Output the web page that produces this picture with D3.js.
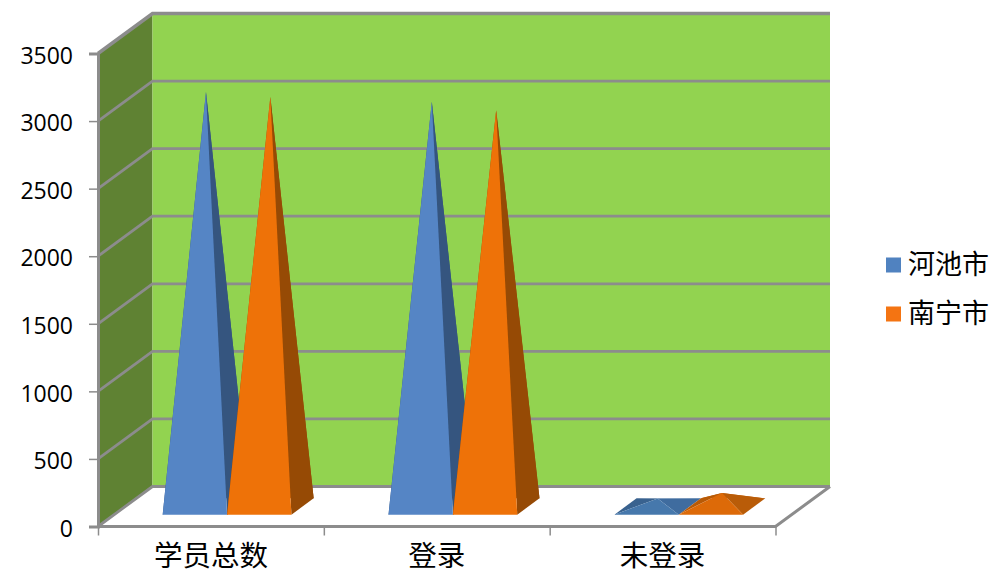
<!DOCTYPE html>
<html>
<head>
<meta charset="utf-8">
<script src="https://cdnjs.cloudflare.com/ajax/libs/d3/7.8.5/d3.min.js"></script>
<style>
html, body { margin: 0; padding: 0; background: #fff; }
svg { display: block; }
</style>
</head>
<body>
<svg id="chart" width="992" height="578"></svg>
<script>
const categories = ["学员总数", "登录", "未登录"];
const seriesNames = ["河池市", "南宁市"];
const hechiValues = [3067, 2993, 60];
const nanningValues = [3030, 2933, 100];
const yTicks = [0, 500, 1000, 1500, 2000, 2500, 3000, 3500];

const seriesValues = [hechiValues, nanningValues];
// front, right, left, back face colours per series; low pyramids catch the light differently
const tallColors = [["#5585c5", "#35557f", "#35557f", "#35557f"], ["#ee7208", "#964a05", "#964a05", "#964a05"]];
const flatColors = [["#4678ac", "#3f6c9f", "#39628f", "#3f6c9f"], ["#dd6a08", "#b95c08", "#b85a06", "#c96207"]];

const svg = d3.select("#chart");
const gridColor = "#8c8c8c";
const plotLeft = 98, plotRight = 775.5, plotBottom = 526.5, plotTop = 53.5;
const depthX = d3.scaleLinear().domain([0, 1]).range([0, 54.5]);
const depthY = d3.scaleLinear().domain([0, 1]).range([0, -40]);
const y = d3.scaleLinear().domain([0, 3500]).range([plotBottom, plotTop]);
const x = d3.scaleBand().domain(categories).range([plotLeft, plotRight]).paddingInner(0.43).paddingOuter(0.215);
const xOuter = d3.scaleBand().domain(categories).range([plotLeft, plotRight]);
const xSeries = d3.scaleBand().domain(seriesNames).range([0, x.bandwidth()]);

// front = z 0, back wall = z 1
function project(px, value, z) {
    return [px + depthX(z), y(value) + depthY(z)];
}

let poly = d3.line();

// walls
svg.append("path")
    .attr("d", poly([project(plotLeft, 0, 0), project(plotRight, 0, 0), project(plotRight, 0, 1), project(plotLeft, 0, 1)]) + "Z")
    .attr("fill", "#ffffff");
svg.append("path")
    .attr("d", poly([project(plotLeft, 0, 0), project(plotLeft, 0, 1), project(plotLeft, 3500, 1), project(plotLeft, 3500, 0)]) + "Z")
    .attr("fill", "#5f8233");
svg.append("path")
    .attr("d", poly([project(plotLeft, 0, 1), project(plotRight, 0, 1), project(plotRight, 3500, 1), project(plotLeft, 3500, 1)]) + "Z")
    .attr("fill", "#92d350");

// gridlines on side and back wall
yTicks.forEach(t => {
    svg.append("path")
        .attr("d", poly([project(plotLeft, t, 0), project(plotLeft, t, 1), project(plotRight, t, 1)]))
        .attr("fill", "none")
        .attr("stroke", gridColor)
        .attr("stroke-width", t === 3500 ? 3.5 : 2.8);
});

// floor edges
svg.append("path")
    .attr("d", poly([project(plotLeft, 0, 0), project(plotRight, 0, 0), project(plotRight, 0, 1)]))
    .attr("fill", "none")
    .attr("stroke", gridColor)
    .attr("stroke-width", 3);

// y axis
const yAxis = d3.axisLeft(y).tickValues(yTicks).tickSize(9).tickPadding(16).tickFormat(d3.format("d"));
const yG = svg.append("g").attr("transform", `translate(${plotLeft},0)`).call(yAxis);
yG.select(".domain").attr("stroke", gridColor).attr("stroke-width", 3);
yG.selectAll(".tick line").attr("stroke", gridColor).attr("stroke-width", 1.5);
yG.selectAll(".tick text")
    .attr("fill", "#000")
    .attr("dy", "0.42em")
    .style("font-family", "'Open Sans', sans-serif")
    .style("font-size", "23px");

// x axis tick marks sit on the category boundaries
const xBounds = d3.scaleLinear().domain([0, 3]).range([plotLeft, plotRight]);
const xTickG = svg.append("g").attr("transform", `translate(0,${plotBottom})`)
    .call(d3.axisBottom(xBounds).tickValues([0, 1, 2, 3]).tickSize(9).tickFormat(""));
xTickG.select(".domain").remove();
xTickG.selectAll(".tick line").attr("stroke", gridColor).attr("stroke-width", 1.5);

// x axis labels
const xLabelG = svg.append("g").attr("transform", `translate(0,${plotBottom})`)
    .call(d3.axisBottom(xOuter).tickSize(0).tickPadding(19));
xLabelG.select(".domain").remove();
xLabelG.selectAll(".tick text")
    .attr("fill", "#000")
    .style("font-family", "'Noto Sans CJK SC', sans-serif")
    .style("font-size", "28.5px");

// pyramids
const zFront = 0.296, zBack = 0.704, zMid = 0.5;
categories.forEach((cat, c) => {
    seriesNames.forEach((name, s) => {
        let v = seriesValues[s][c];
        let x0 = x(cat) + xSeries(name);
        let x1 = x0 + xSeries.bandwidth();
        let fl = project(x0, 0, zFront), fr = project(x1, 0, zFront);
        let bl = project(x0, 0, zBack), br = project(x1, 0, zBack);
        let apex = project((x0 + x1) / 2, v, zMid);
        let colors = (v < 500 ? flatColors : tallColors)[s];
        let faces = [
            {pts: [bl, br, apex], color: colors[3]},
            {pts: [fl, bl, apex], color: colors[2]},
            {pts: [fr, br, apex], color: colors[1]},
            {pts: [fl, fr, apex], color: colors[0]}
        ];
        svg.append("g").selectAll("path")
            .data(faces)
            .join("path")
            .attr("d", d => poly(d.pts) + "Z")
            .attr("fill", d => d.color);
    });
});

// legend
const legendY = d3.scalePoint().domain(seriesNames).range([265, 314]);
const legendColor = d3.scaleOrdinal().domain(seriesNames).range(["#5082c0", "#f47412"]);
const legend = svg.append("g").selectAll("g")
    .data(seriesNames)
    .join("g")
    .attr("transform", d => `translate(886,${legendY(d)})`);
legend.append("rect")
    .attr("x", 0).attr("y", -7.5)
    .attr("width", 15).attr("height", 15)
    .attr("fill", d => legendColor(d));
legend.append("text")
    .attr("x", 22)
    .attr("dy", "0.35em")
    .style("font-family", "'Noto Sans CJK SC', sans-serif")
    .style("font-size", "27px")
    .text(d => d);
</script>
</body>
</html>
